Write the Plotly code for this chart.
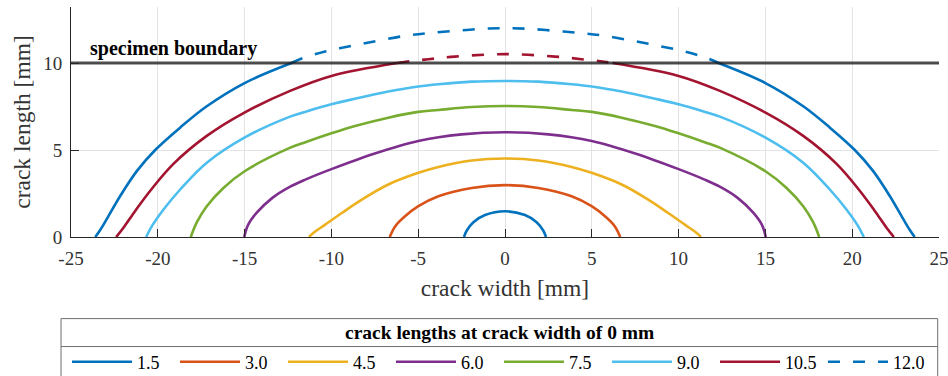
import plotly.graph_objects as go

# ---------------- data ----------------
crack_lengths = [1.5, 3.0, 4.5, 6.0, 7.5, 9.0, 10.5, 12.0]
legend_labels = ["1.5", "3.0", "4.5", "6.0", "7.5", "9.0", "10.5", "12.0"]

# right half of each crack front: crack width (x) and crack length (y)
front_x_15 = [0.0, 1.15, 1.82, 2.21, 2.36]
front_y_15 = [1.48, 1.26, 0.85, 0.36, 0.0]

front_x_30 = [0.0, 1.92, 3.84, 4.99, 5.76, 6.33, 6.64]
front_y_30 = [2.98, 2.82, 2.34, 1.77, 1.19, 0.61, 0.0]

front_x_45 = [0.0, 1.92, 3.84, 4.99, 6.72, 8.25, 9.4, 10.36, 11.04, 11.29]
front_y_45 = [4.51, 4.4, 4.03, 3.69, 3.02, 2.15, 1.38, 0.71, 0.23, 0.0]

front_x_60 = [0.0, 2.5, 5.0, 7.5, 10.0, 11.5, 12.4, 13.4, 14.3, 14.8, 15.02]
front_y_60 = [6.02, 5.9, 5.52, 4.8, 3.9, 3.3, 2.88, 2.25, 1.4, 0.7, 0.0]

front_x_75 = [0.0, 1.92, 3.84, 5.0, 6.72, 8.64, 10.0, 11.5, 12.4, 15.0, 16.22, 17.18, 17.75, 18.1]
front_y_75 = [7.53, 7.47, 7.3, 7.19, 6.86, 6.38, 5.96, 5.45, 5.12, 3.78, 2.82, 1.77, 0.85, 0.0]

front_x_90 = [0.0, 1.92, 3.84, 5.0, 6.72, 8.64, 10.0, 11.52, 12.38, 15.01, 17.18, 18.71, 19.67, 20.35, 20.67]
front_y_90 = [8.97, 8.93, 8.78, 8.65, 8.36, 7.95, 7.63, 7.19, 6.92, 5.71, 4.27, 2.73, 1.58, 0.61, 0.0]

front_x_105 = [0.0, 2.88, 4.41, 5.5, 6.2, 10.0, 12.38, 15.01, 17.18, 19.1, 20.4, 21.3, 22.0, 22.4]
front_y_105 = [10.51, 10.37, 10.22, 10.1, 10.0, 9.26, 8.4, 7.15, 5.81, 4.2, 2.7, 1.5, 0.5, 0.0]

front_x_120 = [0.0, 1.34, 2.88, 4.41, 5.76, 7.39, 8.83, 10.36, 11.71, 12.3,
               15.0, 17.2, 18.7, 20.15, 21.2, 22.2, 22.9, 23.32, 23.6]
front_y_120 = [12.0, 11.97, 11.85, 11.72, 11.56, 11.27, 10.99, 10.66, 10.26, 10.0,
               8.85, 7.5, 6.3, 5.0, 3.8, 2.3, 1.1, 0.4, 0.0]

fronts_x = [front_x_15, front_x_30, front_x_45, front_x_60, front_x_75, front_x_90, front_x_105, front_x_120]
fronts_y = [front_y_15, front_y_30, front_y_45, front_y_60, front_y_75, front_y_90, front_y_105, front_y_120]

specimen_boundary = 10.0
x_limits = [-25, 25]
y_limits = [0, 13.22]
x_ticks = [-25, -20, -15, -10, -5, 0, 5, 10, 15, 20, 25]
y_ticks = [0, 5, 10]

colors = ["#0072BD", "#D95319", "#EDB120", "#7E2F8E", "#77AC30", "#4DBEEE", "#A2142F", "#0072BD"]
legend_dashed = [False, False, False, False, False, False, False, True]

FONT = "Liberation Serif"
LW = 2.6
DASH = "12px,13px"
SMOOTH = 1.0

fig = go.Figure()

for i, a in enumerate(crack_lengths):
    xr, yr = fronts_x[i], fronts_y[i]
    col = colors[i]
    name = legend_labels[i]
    if max(yr) <= specimen_boundary:
        xs = [-v for v in xr[::-1]] + xr[1:]
        ys = yr[::-1] + yr[1:]
        fig.add_trace(go.Scatter(x=xs, y=ys, mode="lines", name=name, legendgroup=name,
                                 line=dict(color=col, width=LW, shape="spline", smoothing=SMOOTH),
                                 hoverinfo="skip"))
    else:
        k = next(j for j, v in enumerate(yr) if v <= specimen_boundary)
        xin = xr[:k + 1]
        yin = yr[:k + 1]
        xd = [-v for v in xin[::-1]] + xin[1:]
        yd = yin[::-1] + yin[1:]
        xo = xr[k:]
        yo = yr[k:]
        solid_legend = not legend_dashed[i]
        traces = [("solid", xo, yo, solid_legend),
                  ("dash", xd, yd, not solid_legend),
                  ("solid", [-v for v in xo], yo, False)]
        traces.sort(key=lambda t: not t[3])
        for style, tx, ty, show in traces:
            fig.add_trace(go.Scatter(x=tx, y=ty, mode="lines", name=name, legendgroup=name,
                                     showlegend=show,
                                     line=dict(color=col, width=LW, shape="spline", smoothing=SMOOTH,
                                               dash=DASH if style == "dash" else "solid"),
                                     hoverinfo="skip"))

# specimen boundary line
fig.add_trace(go.Scatter(x=x_limits, y=[specimen_boundary, specimen_boundary], mode="lines",
                         showlegend=False, hoverinfo="skip",
                         line=dict(color="rgba(20,20,20,0.75)", width=2.8)))

fig.add_annotation(x=-24.0, y=10.85, xref="x", yref="y", text="<b>specimen boundary</b>",
                   showarrow=False, xanchor="left", yanchor="middle",
                   font=dict(family=FONT, size=20, color="#000000"))

# legend frame, title and separator (MATLAB style box)
fig.add_shape(type="rect", xref="paper", yref="paper", x0=-0.0115, x1=0.9985, y0=-0.64, y1=-0.3548,
              line=dict(color="#6e6e6e", width=1), fillcolor="rgba(0,0,0,0)", layer="below")
fig.add_shape(type="line", xref="paper", yref="paper", x0=-0.0115, x1=0.9985, y0=-0.4763, y1=-0.4763,
              line=dict(color="#6e6e6e", width=1))
fig.add_annotation(x=0.494, y=-0.4155, xref="paper", yref="paper",
                   text="<b>crack lengths at crack width of 0 mm</b>", showarrow=False,
                   xanchor="center", yanchor="middle",
                   font=dict(family=FONT, size=19.5, color="#000000"))

axis_common = dict(
    showgrid=True, gridcolor="#e3e3e3", gridwidth=1,
    zeroline=False, showline=True, linecolor="#262626", linewidth=1,
    ticks="inside", ticklen=8, tickcolor="#262626", tickwidth=1,
    tickfont=dict(family=FONT, size=19, color="#333333"),
    ticklabeloverflow="allow",
    automargin=False,
)

fig.update_layout(
    width=948, height=376,
    margin=dict(l=71, r=9, t=7, b=139, autoexpand=False),
    paper_bgcolor="white", plot_bgcolor="white",
    font=dict(family=FONT, color="#262626"),
    xaxis=dict(range=x_limits, tickvals=x_ticks, ticktext=[str(v) for v in x_ticks],
               ticklabelstandoff=4,
               title=dict(text="crack width [mm]", font=dict(family=FONT, size=23.5, color="#333333"),
                          standoff=11),
               **axis_common),
    yaxis=dict(range=y_limits, tickvals=y_ticks, ticktext=[str(v) for v in y_ticks],
               ticklabelstandoff=4,
               title=dict(text="crack length [mm]", font=dict(family=FONT, size=23.5, color="#333333"),
                          standoff=5),
               **axis_common),
    showlegend=True,
    legend=dict(
        orientation="h", x=-0.0046, xanchor="left", y=-0.463, yanchor="top",
        itemwidth=60, entrywidth=33, entrywidthmode="pixels",
        font=dict(family=FONT, size=18, color="#000000"),
        bgcolor="rgba(0,0,0,0)", borderwidth=0, tracegroupgap=0,
    ),
)

fig.write_html("out.html", config={"displayModeBar": False},
               post_script="document.body.style.margin='0px';document.body.style.overflow='hidden';")
